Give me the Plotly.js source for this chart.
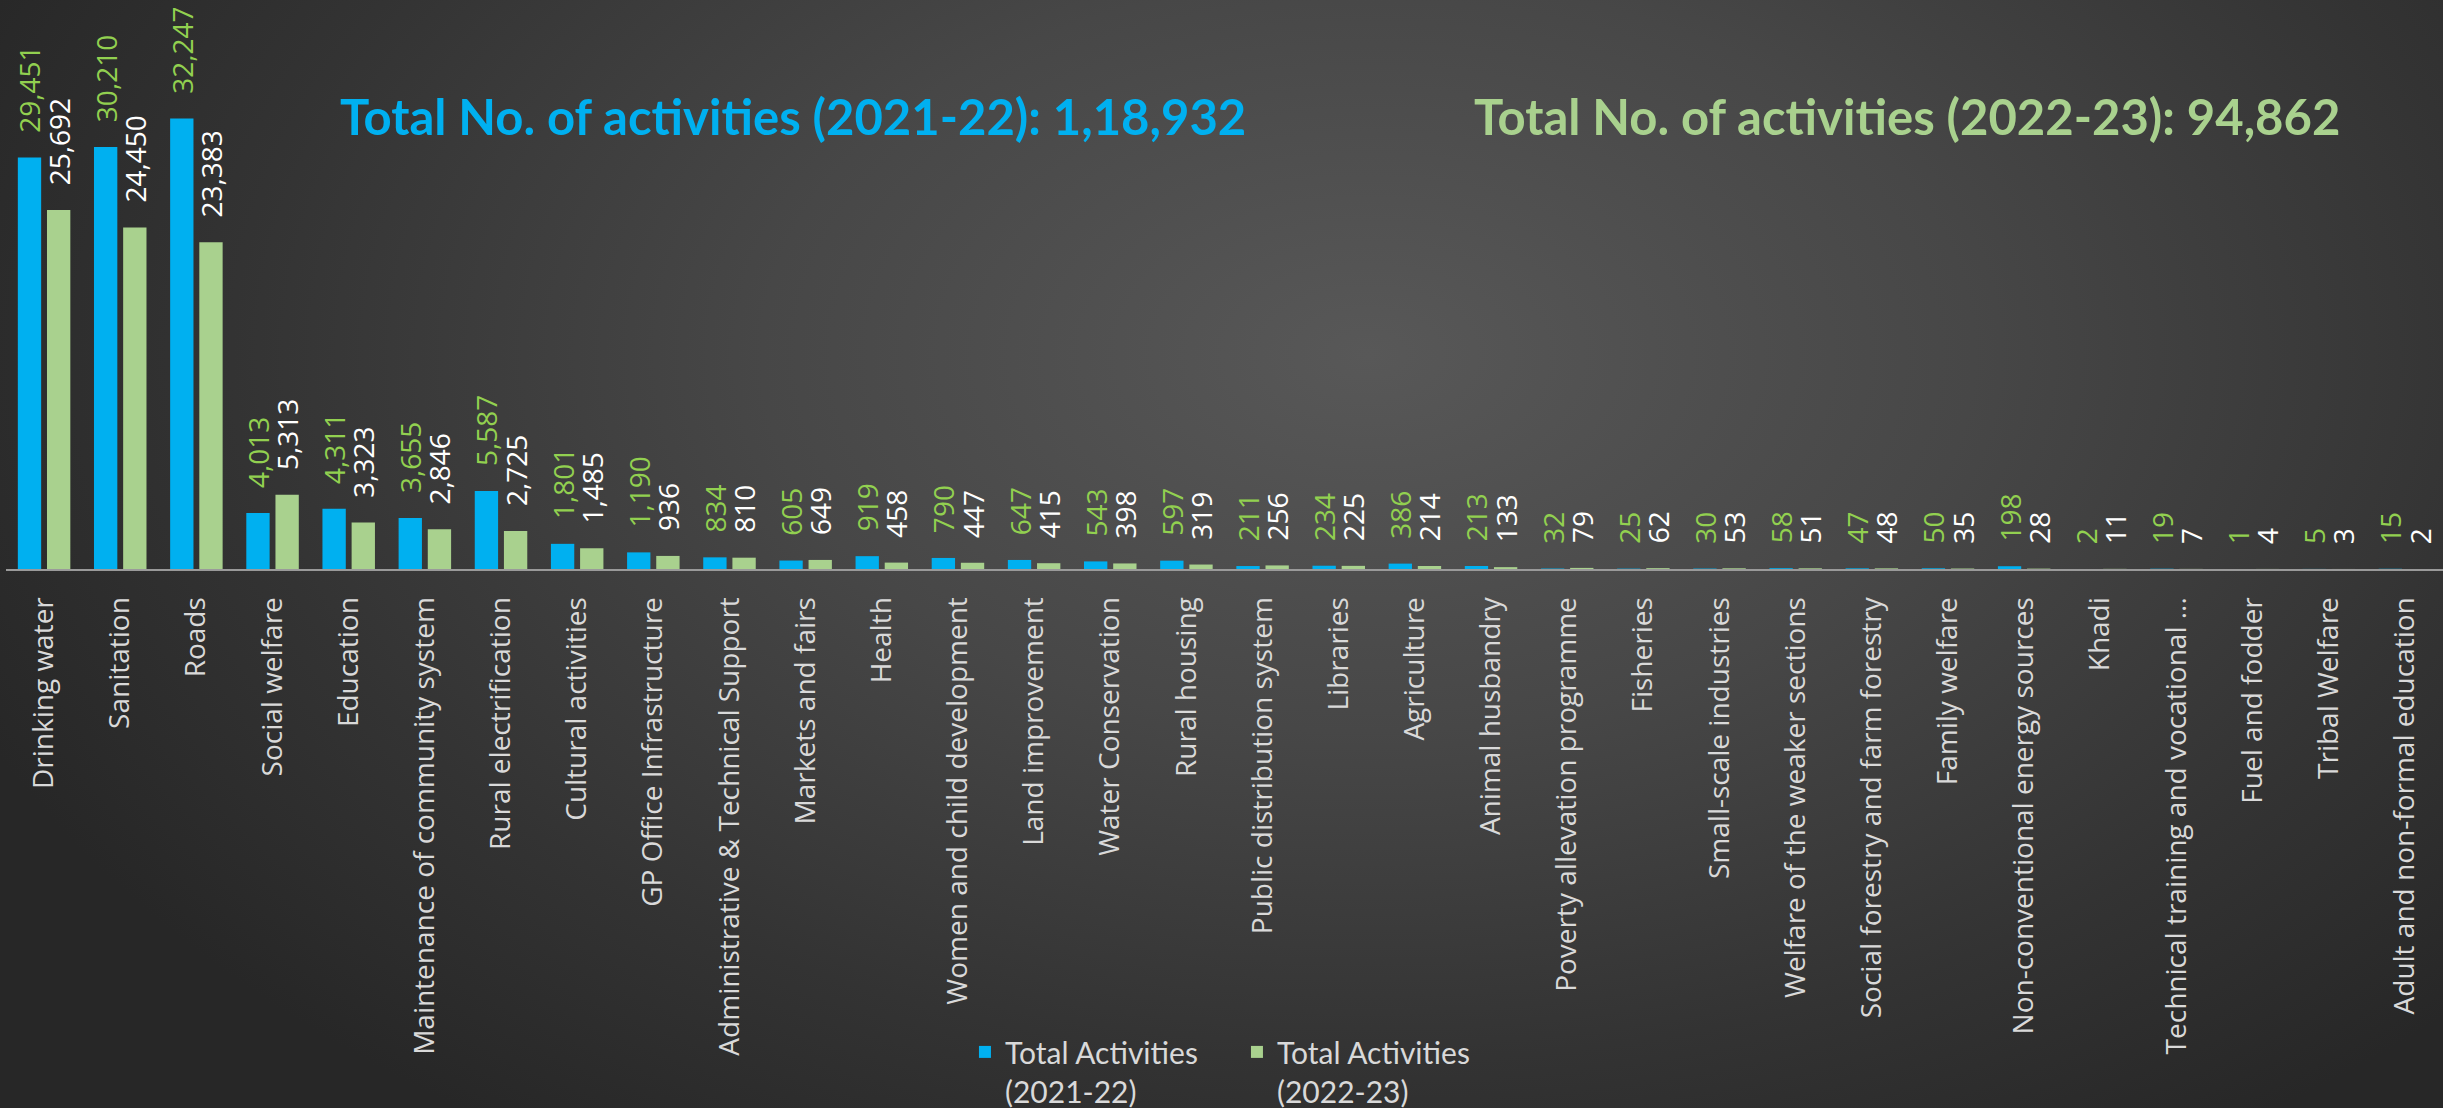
<!DOCTYPE html>
<html>
<head>
<meta charset="utf-8">
<script src="https://cdn.plot.ly/plotly-3.0.1.min.js"></script>
<style>
  html, body { margin: 0; padding: 0; width: 2443px; height: 1108px; overflow: hidden; }
  body { background: radial-gradient(ellipse 62% 85% at 56% 32%, #585858 0%, #474747 40%, #333333 75%, #272727 100%); }
  #chart { width: 2443px; height: 1108px; }
</style>
</head>
<body>
<div id="chart"></div>
<script>
const categories = [
  "Drinking water", "Sanitation", "Roads", "Social welfare", "Education",
  "Maintenance of community system", "Rural electrification", "Cultural activities",
  "GP Office Infrastructure", "Administrative & Technical Support", "Markets and fairs",
  "Health", "Women and child development", "Land improvement", "Water Conservation",
  "Rural housing", "Public distribution system", "Libraries", "Agriculture",
  "Animal husbandry", "Poverty allevation programme", "Fisheries", "Small-scale industries",
  "Welfare of the weaker sections", "Social forestry and farm forestry", "Family welfare",
  "Non-conventional energy sources", "Khadi", "Technical training and vocational ...",
  "Fuel and fodder", "Tribal Welfare", "Adult and non-formal education"
];
const activities2021_22 = [
  29451, 30210, 32247, 4013, 4311, 3655, 5587, 1801, 1190, 834, 605, 919, 790, 647, 543,
  597, 211, 234, 386, 213, 32, 25, 30, 58, 47, 50, 198, 2, 19, 1, 5, 15
];
const activities2022_23 = [
  25692, 24450, 23383, 5313, 3323, 2846, 2725, 1485, 936, 810, 649, 458, 447, 415, 398,
  319, 256, 225, 214, 133, 79, 62, 53, 51, 48, 35, 28, 11, 7, 4, 3, 2
];
const seriesNames = ["Total Activities<br>(2021-22)", "Total Activities<br>(2022-23)"];
const titleTexts = [
  "Total No. of activities (2021-22): 1,18,932",
  "Total No. of activities (2022-23): 94,862"
];

const BLUE = "#00B0F0", GREEN = "#A9D18E", LIME = "#92D050";
const labelFont = "Open Sans, sans-serif";

const traces = [
  {
    type: "bar", name: seriesNames[0], x: categories, y: activities2021_22,
    marker: { color: BLUE },
    texttemplate: "\u00a0\u00a0\u00a0%{y:,}", textposition: "outside", textangle: -90,
    constraintext: "none", cliponaxis: false,
    textfont: { family: labelFont, size: 28, color: LIME },
    hoverinfo: "x+y"
  },
  {
    type: "bar", name: seriesNames[1], x: categories, y: activities2022_23,
    marker: { color: GREEN },
    texttemplate: "\u00a0\u00a0\u00a0%{y:,}", textposition: "outside", textangle: -90,
    constraintext: "none", cliponaxis: false,
    textfont: { family: labelFont, size: 28, color: "#FFFFFF" },
    hoverinfo: "x+y"
  }
];

const layout = {
  width: 2443, height: 1108,
  paper_bgcolor: "rgba(0,0,0,0)", plot_bgcolor: "rgba(0,0,0,0)",
  margin: { l: 6, r: 0, t: 0, b: 539, pad: 0, autoexpand: false },
  barmode: "group", bargap: 0.234, bargroupgap: 0.2,
  showlegend: true,
  xaxis: {
    type: "category", tickangle: -90, showgrid: false, zeroline: false,
    showline: true, linecolor: "#9a9a9a", linewidth: 2,
    ticks: "", ticklabelstandoff: 15, automargin: false,
    tickfont: { family: labelFont, size: 28, color: "#D9D9D9" },
    range: [-0.5, categories.length - 0.5], fixedrange: true
  },
  yaxis: { visible: false, range: [0, 40730], showgrid: false, zeroline: false, fixedrange: true },
  legend: {
    orientation: "h", x: 0.3935, xanchor: "left", y: -0.803, yanchor: "top",
    valign: "top", bgcolor: "rgba(0,0,0,0)",
    font: { family: "Lato, sans-serif", size: 30, color: "#D9D9D9" },
    itemwidth: 30, entrywidth: 227, entrywidthmode: "pixels"
  },
  annotations: [
    { text: titleTexts[0], xref: "paper", yref: "paper", x: 0.323, y: 0.796,
      xanchor: "center", yanchor: "middle", showarrow: false,
      font: { family: "Lato, sans-serif", size: 49, color: BLUE, weight: "bold" } },
    { text: titleTexts[1], xref: "paper", yref: "paper", x: 0.780, y: 0.796,
      xanchor: "center", yanchor: "middle", showarrow: false,
      font: { family: "Lato, sans-serif", size: 49, color: GREEN, weight: "bold" } }
  ]
};

Plotly.newPlot("chart", traces, layout, { displayModeBar: false, staticPlot: true });
</script>
</body>
</html>
